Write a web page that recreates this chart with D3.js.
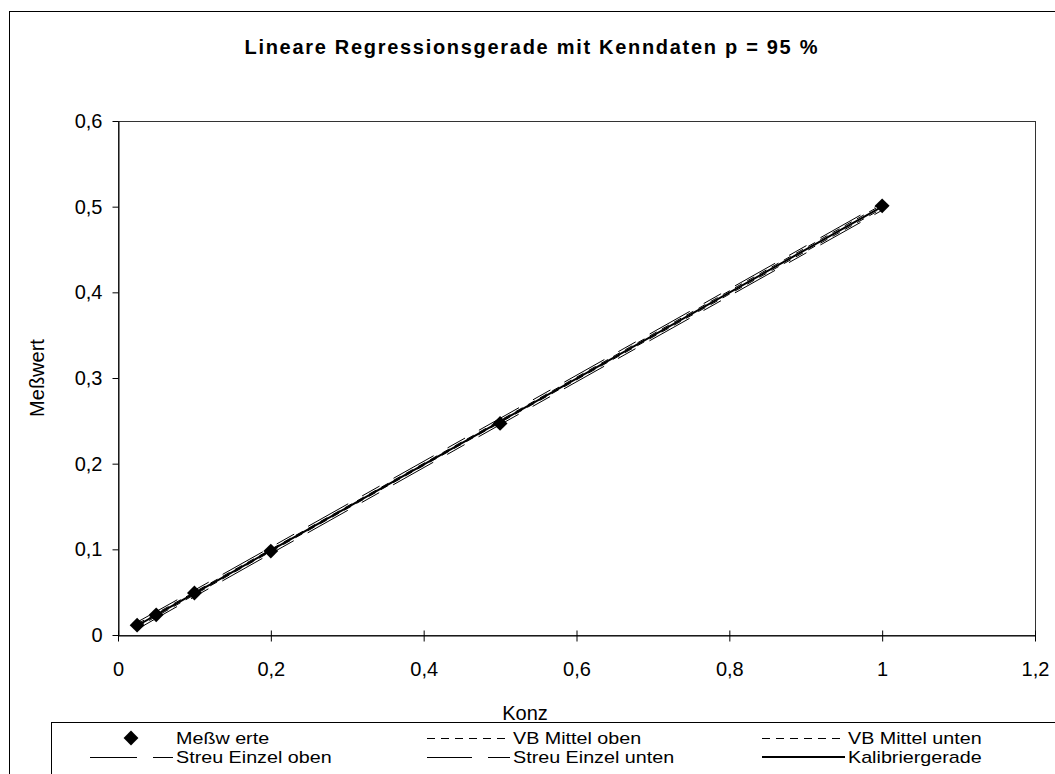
<!DOCTYPE html>
<html>
<head>
<meta charset="utf-8">
<script src="https://cdn.jsdelivr.net/npm/d3@7"></script>
<style>
  body { margin: 0; background: #fff; }
  text { font-family: "Liberation Sans", Arial, sans-serif; fill: #000; }
</style>
</head>
<body>
<div id="chart"></div>
<script>
// data
const konz = [0.025, 0.05, 0.1, 0.2, 0.5, 1];
const messwerte = [0.0115, 0.0235, 0.049, 0.098, 0.247, 0.501];
const kalibrier = [0.0108, 0.0234, 0.0485, 0.0987, 0.2492, 0.5001];
const vbOben = [0.0128, 0.0252, 0.0501, 0.1000, 0.2505, 0.5024];
const vbUnten = [0.0088, 0.0216, 0.0469, 0.0974, 0.2479, 0.4978];
const streuOben = [0.0150, 0.0274, 0.0523, 0.1024, 0.2529, 0.5044];
const streuUnten = [0.0066, 0.0194, 0.0447, 0.0950, 0.2455, 0.4958];
const xTicks = [0, 0.2, 0.4, 0.6, 0.8, 1, 1.2];
const yTicks = [0, 0.1, 0.2, 0.3, 0.4, 0.5, 0.6];

const W = 1055, H = 774;
const plot = {left: 118, top: 121, right: 1035, bottom: 635};

const svg = d3.select("#chart").append("svg")
    .attr("width", W)
    .attr("height", H);

// outer chart frame (runs past the right and bottom edge)
svg.append("rect")
    .attr("x", 9.5).attr("y", 11.5)
    .attr("width", 1100).attr("height", 800)
    .attr("fill", "#fff").attr("stroke", "#000").attr("stroke-width", 1);

const x = d3.scaleLinear().domain([0, 1.2]).range([plot.left, plot.right]);
const y = d3.scaleLinear().domain([0, 0.6]).range([plot.bottom, plot.top]);
const fmt = d => String(d).replace(".", ",");

// plot area border
svg.append("rect")
    .attr("x", plot.left + 0.5).attr("y", plot.top + 0.5)
    .attr("width", plot.right - plot.left).attr("height", plot.bottom - plot.top)
    .attr("fill", "none").attr("stroke", "#333").attr("stroke-width", 1);

// axes
const xAxis = svg.append("g")
    .attr("transform", "translate(0," + (plot.bottom + 0.5) + ")")
    .call(d3.axisBottom(x).tickValues(xTicks).tickFormat(fmt).tickSize(6).tickSizeOuter(0));
xAxis.selectAll(".tick line").attr("y1", -5).attr("y2", 6);
xAxis.selectAll(".tick text").attr("dy", 0).attr("y", 40).style("font-size", "20px");

const yAxis = svg.append("g")
    .attr("transform", "translate(" + (plot.left + 0.5) + ",0)")
    .call(d3.axisLeft(y).tickValues(yTicks).tickFormat(fmt).tickSize(6).tickSizeOuter(0));
yAxis.selectAll(".tick text").attr("x", -16).style("font-size", "20px");

svg.selectAll(".domain").attr("stroke", "#000");
svg.selectAll(".tick line").attr("stroke", "#000");
svg.selectAll(".tick text").attr("font-family", null);

// lines
const lineFor = vals => d3.line()
    .x((d, i) => x(konz[i]))
    .y(d => y(d))(vals);

const series = [
  {name: "Streu Einzel oben", vals: streuOben, dash: "46,16,20,16", width: 1},
  {name: "Streu Einzel unten", vals: streuUnten, dash: "46,16,20,16", width: 1},
  {name: "VB Mittel oben", vals: vbOben, dash: "8,6", width: 1},
  {name: "VB Mittel unten", vals: vbUnten, dash: "8,6", width: 1},
  {name: "Kalibriergerade", vals: kalibrier, dash: null, width: 2}
];

svg.append("g").selectAll("path")
    .data(series)
    .enter().append("path")
    .attr("d", d => lineFor(d.vals))
    .attr("fill", "none")
    .attr("stroke", "#000")
    .attr("stroke-width", d => d.width)
    .attr("stroke-dasharray", d => d.dash);

// measured points as diamonds
const diamond = d3.symbol().type(d3.symbolSquare).size(110);
svg.append("g").selectAll("path")
    .data(messwerte)
    .enter().append("path")
    .attr("d", diamond)
    .attr("transform", (d, i) => "translate(" + x(konz[i]) + "," + y(d) + ") rotate(45)")
    .attr("fill", "#000");

// title
svg.append("text")
    .attr("x", 531).attr("y", 54)
    .attr("text-anchor", "middle")
    .attr("textLength", 573)
    .attr("lengthAdjust", "spacing")
    .style("font-size", "20px")
    .style("font-weight", "bold")
    .text("Lineare Regressionsgerade mit Kenndaten p = 95 %");

// axis titles
svg.append("text")
    .attr("x", 525).attr("y", 720)
    .attr("text-anchor", "middle")
    .style("font-size", "20px")
    .text("Konz");

svg.append("text")
    .attr("transform", "translate(44,378) rotate(-90)")
    .attr("text-anchor", "middle")
    .style("font-size", "20px")
    .text("Meßwert");

// legend
const legend = svg.append("g");
legend.append("rect")
    .attr("x", 51.5).attr("y", 722.5)
    .attr("width", 1100).attr("height", 100)
    .attr("fill", "#fff").attr("stroke", "#000");

const legendItems = [
  {label: "Meßw erte", col: 0, row: 0, type: "point"},
  {label: "VB Mittel oben", col: 1, row: 0, dash: "8,6", width: 1},
  {label: "VB Mittel unten", col: 2, row: 0, dash: "8,6", width: 1},
  {label: "Streu Einzel oben", col: 0, row: 1, dash: "47,16,20,16", width: 1},
  {label: "Streu Einzel unten", col: 1, row: 1, dash: "45,16,22,16", width: 1},
  {label: "Kalibriergerade", col: 2, row: 1, dash: null, width: 2}
];
const colX = [90, 427, 762];
const rowY = [738, 757];

const li = legend.selectAll(".item")
    .data(legendItems)
    .enter().append("g")
    .attr("transform", d => "translate(" + colX[d.col] + "," + rowY[d.row] + ")");

li.filter(d => d.type === "point").append("path")
    .attr("d", diamond)
    .attr("transform", "translate(41,0) rotate(45)")
    .attr("fill", "#000");

// thin lines sit on the half pixel so they stay crisp black
li.filter(d => d.type !== "point").append("line")
    .attr("x1", 0).attr("x2", 83)
    .attr("y1", d => d.width === 1 ? 0.5 : 0)
    .attr("y2", d => d.width === 1 ? 0.5 : 0)
    .attr("stroke", "#000")
    .attr("stroke-width", d => d.width)
    .attr("stroke-dasharray", d => d.dash);

// the legend lettering is drawn narrow-tall in the original, so stretch it a bit
li.append("text")
    .attr("transform", "translate(86,6) scale(1.16,1)")
    .style("font-size", "17px")
    .text(d => d.label);
</script>
</body>
</html>
